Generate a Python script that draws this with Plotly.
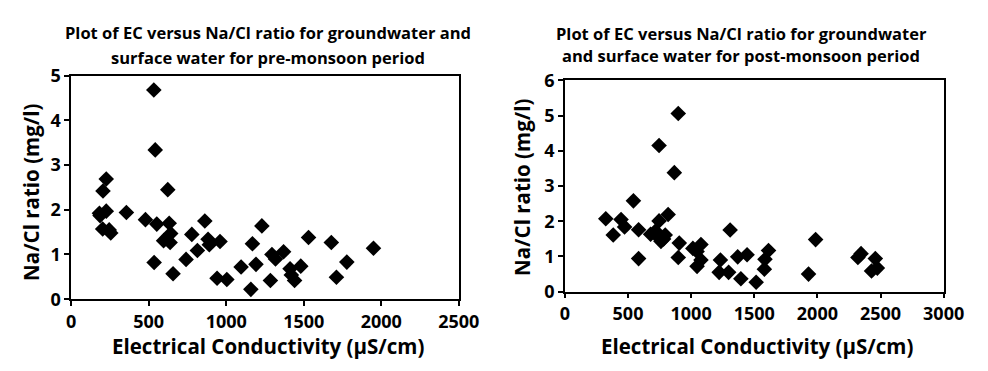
import plotly.graph_objects as go

# Pre-monsoon: EC (µS/cm) vs Na/Cl ratio
pre_ec = [533, 542, 226, 205, 623, 182, 186, 226, 203, 245, 255, 356, 479, 552, 535,
          632, 596, 642, 638, 657, 741, 778, 814, 862, 883, 891, 960, 941, 1004, 1096,
          1169, 1159, 1192, 1230, 1285, 1295, 1318, 1370, 1412, 1420, 1441, 1481, 1531,
          1678, 1711, 1778, 1950]
pre_ratio = [4.68, 3.34, 2.69, 2.42, 2.45, 1.92, 1.87, 1.97, 1.57, 1.55, 1.48, 1.94, 1.78,
             1.68, 0.82, 1.70, 1.31, 1.47, 1.27, 0.57, 0.89, 1.45, 1.09, 1.75, 1.34, 1.22,
             1.29, 0.47, 0.44, 0.72, 1.24, 0.22, 0.78, 1.64, 0.42, 1.00, 0.90, 1.06, 0.68,
             0.54, 0.42, 0.74, 1.38, 1.27, 0.49, 0.83, 1.14]

# Post-monsoon
post_ec = [898, 746, 867, 543, 818, 324, 383, 445, 473, 584, 584, 746, 679, 718, 743,
           761, 795, 782, 906, 898, 1014, 1047, 1078, 1047, 1078, 1309, 1232, 1222, 1297,
           1369, 1443, 1394, 1515, 1585, 1580, 1613, 1930, 1986, 2321, 2346, 2429, 2459, 2475]
post_ratio = [5.06, 4.15, 3.38, 2.58, 2.19, 2.07, 1.61, 2.05, 1.84, 1.76, 0.94, 2.01, 1.63,
              1.72, 1.54, 1.43, 1.61, 1.50, 1.38, 0.97, 1.23, 1.14, 1.34, 0.72, 0.90, 1.75,
              0.90, 0.55, 0.55, 0.99, 1.05, 0.37, 0.27, 0.92, 0.64, 1.17, 0.50, 1.48, 0.97,
              1.08, 0.59, 0.94, 0.67]

title_lines_pre = ["Plot of EC versus Na/Cl ratio for groundwater and",
                   "surface water for pre-monsoon period"]
title_lines_post = ["Plot of EC versus Na/Cl ratio for groundwater",
                    "and surface water for post-monsoon period"]
x_title = "Electrical Conductivity (µS/cm)"
y_title = "Na/Cl ratio (mg/l)"

FONT = "Open Sans"
W, H = 988, 371

fig = go.Figure()
marker = dict(symbol="diamond", size=12, color="black", line=dict(width=0))
fig.add_trace(go.Scatter(x=pre_ec, y=pre_ratio, mode="markers", marker=marker,
                         xaxis="x", yaxis="y", showlegend=False))
fig.add_trace(go.Scatter(x=post_ec, y=post_ratio, mode="markers", marker=marker,
                         xaxis="x2", yaxis="y2", showlegend=False))

def px_x(p):
    return p / W

def px_y(p):
    return 1 - p / H

axis_common = dict(showgrid=False, zeroline=False, showline=True, linecolor="black",
                   linewidth=1.5, mirror=True, ticks="outside", ticklen=5, tickwidth=1.5,
                   tickcolor="black",
                   tickfont=dict(family=FONT, size=18, color="black", weight="bold"))

fig.update_layout(
    width=W, height=H, margin=dict(l=0, r=0, t=0, b=0),
    paper_bgcolor="white", plot_bgcolor="white",
    xaxis=dict(domain=[px_x(68), px_x(466)], range=[0, 2500], dtick=500, anchor="y", **axis_common),
    yaxis=dict(domain=[px_y(306), px_y(67)], range=[0, 5], dtick=1, anchor="x", **axis_common),
    xaxis2=dict(domain=[px_x(575), px_x(964)], range=[0, 3000], dtick=500, anchor="y2", **axis_common),
    yaxis2=dict(domain=[px_y(298), px_y(72)], range=[0, 6], dtick=1, anchor="x2", **axis_common),
)

ann = []
title_font = dict(family=FONT, size=16.5, color="black", weight="bold")
for txt, cx, cy in ((title_lines_pre[0], 270, 21), (title_lines_pre[1], 270, 48),
                    (title_lines_post[0], 756, 22), (title_lines_post[1], 756, 45)):
    ann.append(dict(text=txt, x=px_x(cx), y=px_y(cy), xref="paper", yref="paper",
                    showarrow=False, font=title_font, xanchor="center", yanchor="middle"))
axt_font = dict(family=FONT, size=20.5, color="black", weight="bold")
for cx in (270, 772):
    ann.append(dict(text=x_title, x=px_x(cx), y=px_y(356), xref="paper", yref="paper",
                    showarrow=False, font=axt_font, xanchor="center", yanchor="middle"))
for cx, cy in ((26, 192), (531, 187)):
    ann.append(dict(text=y_title, x=px_x(cx), y=px_y(cy), xref="paper", yref="paper",
                    showarrow=False, font=axt_font, textangle=-90,
                    xanchor="center", yanchor="middle"))
fig.update_layout(annotations=ann)

fig.write_html("out.html")
